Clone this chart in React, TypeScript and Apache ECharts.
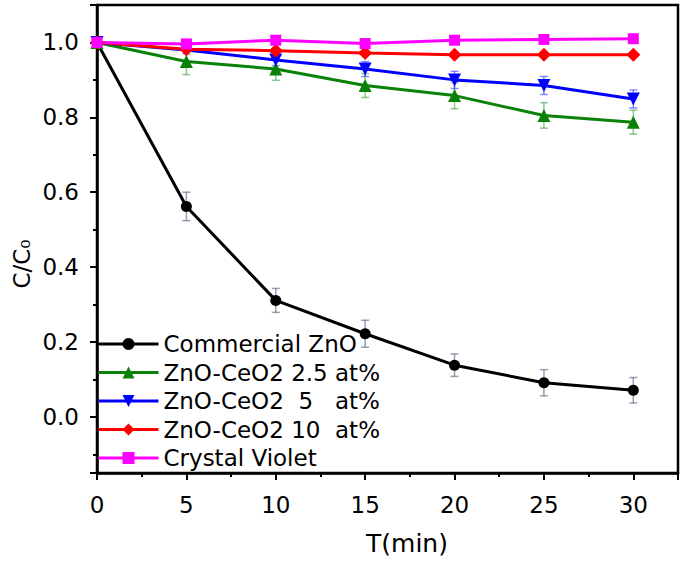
import React, { useEffect, useRef } from "react";
import * as echarts from "echarts";

const times = [0, 5, 10, 15, 20, 25, 30];
const commercialZnO = [1.0, 0.562, 0.311, 0.222, 0.138, 0.091, 0.071];
const commercialZnOErr = [0.004, 0.038, 0.032, 0.036, 0.03, 0.035, 0.034];
const znoCeo2_2_5 = [1.0, 0.949, 0.929, 0.885, 0.858, 0.805, 0.787];
const znoCeo2_2_5Err = [0.004, 0.035, 0.03, 0.032, 0.035, 0.034, 0.032];
const znoCeo2_5 = [1.0, 0.98, 0.953, 0.929, 0.9, 0.885, 0.849];
const znoCeo2_5Err = [0.004, 0.01, 0.015, 0.02, 0.023, 0.024, 0.024];
const znoCeo2_10 = [1.0, 0.982, 0.978, 0.972, 0.967, 0.967, 0.967];
const znoCeo2_10Err = [0.003, 0.005, 0.005, 0.005, 0.005, 0.005, 0.005];
const crystalViolet = [1.0, 0.996, 1.006, 0.997, 1.006, 1.008, 1.01];
const crystalVioletErr = [0.003, 0.004, 0.004, 0.004, 0.004, 0.004, 0.004];

const seriesNames = [
  "Commercial ZnO",
  "ZnO-CeO2 2.5 at%",
  "ZnO-CeO2  5   at%",
  "ZnO-CeO2 10  at%",
  "Crystal Violet",
];

const FONT = "DejaVu Sans";

export default function App() {
  const ref = useRef<HTMLDivElement>(null);
  useEffect(() => {
    if (!ref.current) return;
    const chart = echarts.init(ref.current, null, { renderer: "svg" });

    const defs = [
      { name: seriesNames[0], vals: commercialZnO, err: commercialZnOErr, color: "#000000", errColor: "rgba(90,90,130,0.6)", symbol: "circle", size: 11 },
      { name: seriesNames[1], vals: znoCeo2_2_5, err: znoCeo2_2_5Err, color: "#0a820a", errColor: "rgba(10,130,10,0.45)", symbol: "triangle", size: 13 },
      { name: seriesNames[2], vals: znoCeo2_5, err: znoCeo2_5Err, color: "#0000ff", errColor: "rgba(0,0,255,0.45)", symbol: "path://M0,0 L10,0 L5,10 Z", size: 13 },
      { name: seriesNames[3], vals: znoCeo2_10, err: znoCeo2_10Err, color: "#ff0000", errColor: "rgba(255,0,0,0.45)", symbol: "diamond", size: 14 },
      { name: seriesNames[4], vals: crystalViolet, err: crystalVioletErr, color: "#ff00ff", errColor: "rgba(255,0,255,0.45)", symbol: "rect", size: 11 },
    ];

    const errSeries = defs.map((d) => ({
      type: "custom",
      z: 1,
      silent: true,
      data: times.map((t, i) => [t, d.vals[i] - d.err[i], d.vals[i] + d.err[i]]),
      renderItem: (params: any, api: any) => {
        const x = api.value(0);
        const lo = api.coord([x, api.value(1)]);
        const hi = api.coord([x, api.value(2)]);
        const w = 4;
        const st = { stroke: d.errColor, lineWidth: 1.5 };
        return {
          type: "group",
          children: [
            { type: "line", shape: { x1: lo[0], y1: lo[1], x2: hi[0], y2: hi[1] }, style: st },
            { type: "line", shape: { x1: lo[0] - w, y1: lo[1], x2: lo[0] + w, y2: lo[1] }, style: st },
            { type: "line", shape: { x1: hi[0] - w, y1: hi[1], x2: hi[0] + w, y2: hi[1] }, style: st },
          ],
        };
      },
    }));

    const lineSeries = defs.map((d) => ({
      type: "line",
      name: d.name,
      z: 2,
      data: times.map((t, i) => [t, d.vals[i]]),
      symbol: d.symbol,
      symbolSize: d.size,
      itemStyle: { color: d.color },
      lineStyle: { color: d.color, width: 3 },
    }));

    const axisLbl = { fontFamily: FONT, fontSize: 23, color: "#000" };

    chart.setOption({
      animation: false,
      grid: {
        left: 97,
        right: 7,
        top: 5,
        bottom: 91,
        show: true,
        borderColor: "#000",
        borderWidth: 2.5,
      },
      xAxis: {
        type: "value",
        min: 0,
        max: 32.5,
        interval: 5,
        axisLine: { show: true, onZero: false, lineStyle: { color: "#000", width: 2.5 } },
        axisTick: { show: true, length: 7, lineStyle: { color: "#000", width: 2 } },
        minorTick: { show: true, splitNumber: 2, length: 4, lineStyle: { color: "#000", width: 2 } },
        splitLine: { show: false },
        axisLabel: {
          ...axisLbl,
          margin: 20,
          showMaxLabel: false,
          formatter: (v: number) => (Math.abs(v % 5) < 1e-6 ? String(v) : ""),
        },
      },
      yAxis: {
        type: "value",
        min: -0.15,
        max: 1.1,
        splitNumber: 6,
        minInterval: 0.2,
        maxInterval: 0.2,
        axisLine: { show: true, onZero: false, lineStyle: { color: "#000", width: 2.5 } },
        axisTick: { show: true, length: 7, lineStyle: { color: "#000", width: 2 } },
        minorTick: { show: true, splitNumber: 2, length: 4, lineStyle: { color: "#000", width: 2 } },
        splitLine: { show: false },
        axisLabel: {
          ...axisLbl,
          margin: 18,
          formatter: (v: number) => {
            const k = v * 10;
            if (Math.abs(k - Math.round(k)) > 1e-6) return "";
            if (Math.round(k) % 2 !== 0) return "";
            return v.toFixed(1);
          },
        },
      },
      legend: {
        data: seriesNames,
        orient: "vertical",
        left: 97,
        top: 332,
        itemWidth: 60,
        itemHeight: 15,
        itemGap: 4.5,
        padding: 0,
        lineStyle: { width: 3 },
        textStyle: { fontFamily: FONT, fontSize: 23, color: "#000", lineHeight: 24 },
      },
      graphic: [
        {
          type: "text",
          x: 22,
          y: 264,
          rotation: Math.PI / 2,
          style: {
            text: "C/C₀",
            fontFamily: FONT,
            fontSize: 23,
            fill: "#000",
            align: "center",
            verticalAlign: "middle",
          },
        },
        {
          type: "text",
          x: 407,
          y: 543,
          style: {
            text: "T(min)",
            fontFamily: FONT,
            fontSize: 25,
            fill: "#000",
            align: "center",
            verticalAlign: "middle",
          },
        },
      ],
      series: [...errSeries, ...lineSeries],
    });

    return () => chart.dispose();
  }, []);

  return (
    <div
      ref={ref}
      style={{ position: "fixed", left: 0, top: 0, width: 685, height: 564, background: "#fff" }}
    />
  );
}
